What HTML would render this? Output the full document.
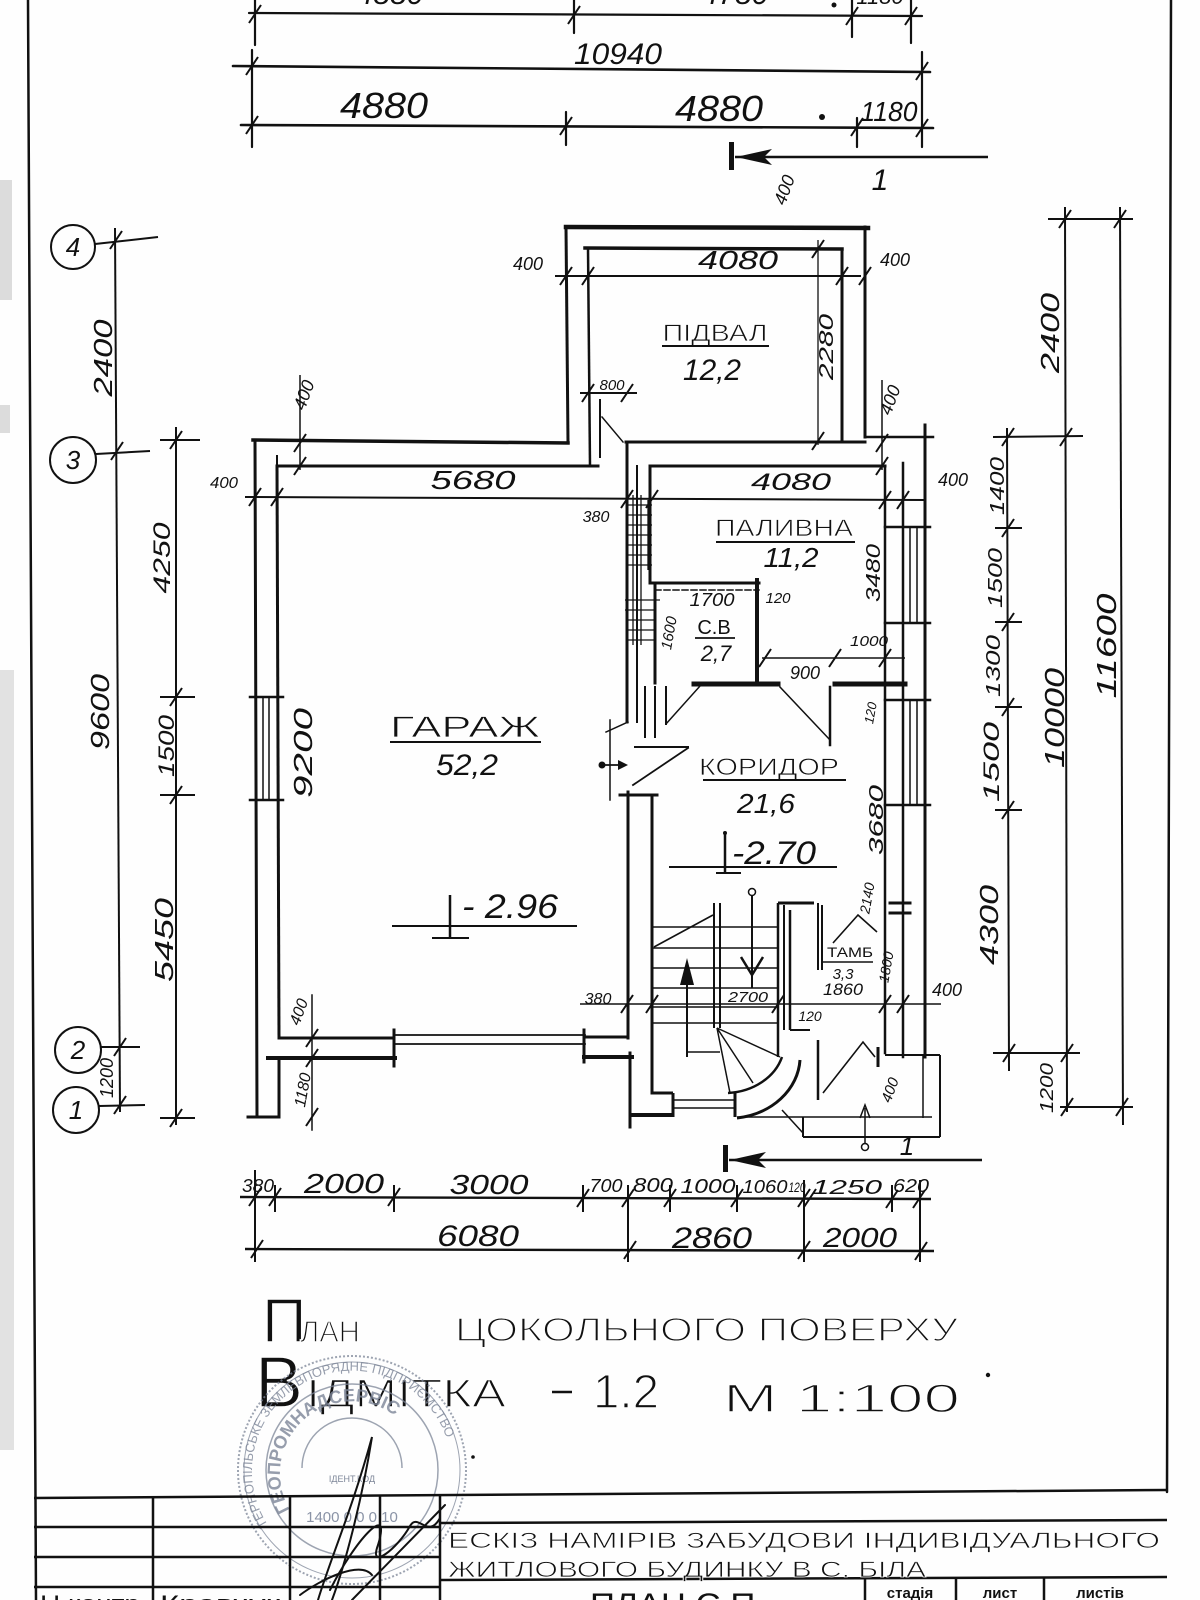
<!DOCTYPE html>
<html><head><meta charset="utf-8">
<style>
html,body{margin:0;padding:0;background:#fff;}
svg{display:block;}
.d{font-family:"Liberation Sans",sans-serif;font-style:italic;fill:#111;}
.r{font-family:"Liberation Sans",sans-serif;fill:#111;}
.th{stroke:#fefefe;stroke-width:1.4;}
.tl{stroke:#fefefe;stroke-width:0.7;}
</style></head><body>
<svg width="1200" height="1600" viewBox="0 0 1200 1600">
<defs>
<line id="t" x1="-6" y1="9" x2="6" y2="-9" stroke="#111" stroke-width="2"/>
</defs>
<rect width="1200" height="1600" fill="#fefefe"/>
<rect x="0" y="180" width="12" height="120" fill="#dcdcdc"/>
<rect x="0" y="405" width="10" height="28" fill="#dcdcdc"/>
<rect x="0" y="670" width="14" height="780" fill="#e2e2e2"/>

<g stroke="#111" fill="none" stroke-linecap="round">
<line x1="28" y1="0" x2="36" y2="1600" stroke-width="2.5"/>
<line x1="1171" y1="0" x2="1167" y2="1492" stroke-width="2.5"/>
<g stroke-width="2.2">
<line x1="249" y1="13" x2="922" y2="16"/>
<line x1="255" y1="0" x2="255" y2="45"/>
<line x1="574" y1="0" x2="574" y2="33"/>
<line x1="852" y1="0" x2="852" y2="37"/>
<line x1="911" y1="0" x2="911" y2="43"/>
<line x1="233" y1="66" x2="930" y2="72" stroke-width="2.6"/>
<line x1="252" y1="50" x2="252" y2="147"/>
<line x1="922" y1="52" x2="922" y2="147"/>
<line x1="241" y1="125" x2="933" y2="128" stroke-width="2.6"/>
<line x1="566" y1="112" x2="566" y2="145"/>
<line x1="857" y1="118" x2="857" y2="147"/>
</g>
</g>
<use href="#t" x="255" y="14"/><use href="#t" x="574" y="15"/><use href="#t" x="852" y="16"/><use href="#t" x="911" y="16"/>
<use href="#t" x="252" y="66"/><use href="#t" x="922" y="71"/>
<use href="#t" x="252" y="125"/><use href="#t" x="566" y="126"/><use href="#t" x="857" y="127"/><use href="#t" x="922" y="128"/>
<text class="d" x="390" y="4" font-size="30" text-anchor="middle">4880</text>
<text class="d" x="735" y="4" font-size="30" text-anchor="middle">4780</text>
<text class="d" x="880" y="4" font-size="22" text-anchor="middle">1180</text>
<circle cx="834" cy="5" r="2.5" fill="#111"/>
<text class="d" x="618" y="64" font-size="30" text-anchor="middle" textLength="88" lengthAdjust="spacingAndGlyphs">10940</text>
<text class="d" x="384" y="118" font-size="36" text-anchor="middle" textLength="88" lengthAdjust="spacingAndGlyphs">4880</text>
<text class="d" x="719" y="121" font-size="36" text-anchor="middle" textLength="88" lengthAdjust="spacingAndGlyphs">4880</text>
<text class="d" x="889" y="121" font-size="28" text-anchor="middle" textLength="57" lengthAdjust="spacingAndGlyphs">1180</text>
<circle cx="822" cy="117" r="3" fill="#111"/>

<rect x="729" y="142" width="5" height="28" fill="#111"/>
<line x1="735" y1="157" x2="988" y2="157" stroke="#111" stroke-width="2.5"/>
<polygon points="736,157 772,149 764,157 772,165" fill="#111"/>
<text class="d" x="880" y="190" font-size="30" text-anchor="middle">1</text>
<text class="d" font-size="18" transform="translate(790,192) rotate(-70)" text-anchor="middle">400</text>

<g stroke="#111" stroke-width="2" fill="none">
<circle cx="73" cy="247" r="22"/>
<circle cx="73" cy="460" r="23"/>
<circle cx="78" cy="1050" r="23"/>
<circle cx="76" cy="1110" r="23"/>
<line x1="95" y1="244" x2="158" y2="237"/>
<line x1="96" y1="454" x2="150" y2="451"/>
<line x1="101" y1="1047" x2="140" y2="1047"/>
<line x1="99" y1="1106" x2="145" y2="1105"/>
<line x1="115" y1="228" x2="120" y2="1112"/>
<line x1="176" y1="427" x2="176" y2="1125"/>
<line x1="160" y1="440" x2="200" y2="440"/>
<line x1="160" y1="697" x2="195" y2="697"/>
<line x1="160" y1="795" x2="195" y2="795"/>
<line x1="160" y1="1118" x2="195" y2="1118"/>
</g>
<text class="d" x="73" y="256" font-size="26" text-anchor="middle">4</text>
<text class="d" x="73" y="469" font-size="26" text-anchor="middle">3</text>
<text class="d" x="78" y="1059" font-size="26" text-anchor="middle">2</text>
<text class="d" x="76" y="1119" font-size="26" text-anchor="middle">1</text>
<use href="#t" x="116" y="240"/><use href="#t" x="117" y="451"/><use href="#t" x="120" y="1047"/><use href="#t" x="120" y="1105"/>
<use href="#t" x="176" y="440"/><use href="#t" x="176" y="697"/><use href="#t" x="176" y="795"/><use href="#t" x="176" y="1118"/>
<text class="d" font-size="26" transform="translate(103,358) rotate(-90)" text-anchor="middle" dy="9" textLength="77" lengthAdjust="spacingAndGlyphs">2400</text>
<text class="d" font-size="26" transform="translate(100,712) rotate(-90)" text-anchor="middle" dy="9" textLength="76" lengthAdjust="spacingAndGlyphs">9600</text>
<text class="d" font-size="18" transform="translate(107,1078) rotate(-90)" text-anchor="middle" dy="6" textLength="40" lengthAdjust="spacingAndGlyphs">1200</text>
<text class="d" font-size="24" transform="translate(162,558) rotate(-90)" text-anchor="middle" dy="8" textLength="71" lengthAdjust="spacingAndGlyphs">4250</text>
<text class="d" font-size="22" transform="translate(166,746) rotate(-90)" text-anchor="middle" dy="8" textLength="62" lengthAdjust="spacingAndGlyphs">1500</text>
<text class="d" font-size="26" transform="translate(164,940) rotate(-90)" text-anchor="middle" dy="9" textLength="84" lengthAdjust="spacingAndGlyphs">5450</text>

<g stroke="#111" fill="none" stroke-linecap="square">
<line x1="253" y1="440" x2="568" y2="443" stroke-width="3.5"/>
<line x1="277" y1="466" x2="598" y2="466" stroke-width="3"/>
<line x1="255" y1="440" x2="257" y2="1117" stroke-width="3"/>
<line x1="277" y1="466" x2="279" y2="1038" stroke-width="3"/>
<line x1="250" y1="697" x2="283" y2="697" stroke-width="2.5"/>
<line x1="250" y1="800" x2="283" y2="800" stroke-width="2.5"/>
<line x1="263" y1="697" x2="263" y2="800" stroke-width="1.5"/>
<line x1="269" y1="697" x2="269" y2="800" stroke-width="1.5"/>
<line x1="279" y1="1038" x2="394" y2="1038" stroke-width="3"/>
<line x1="268" y1="1058" x2="395" y2="1058" stroke-width="4"/>
<line x1="394" y1="1030" x2="394" y2="1066" stroke-width="3"/>
<line x1="394" y1="1035" x2="585" y2="1035" stroke-width="1.8"/>
<line x1="394" y1="1044" x2="585" y2="1044" stroke-width="1.8"/>
<line x1="584" y1="1030" x2="584" y2="1062" stroke-width="3"/>
<line x1="584" y1="1037" x2="628" y2="1037" stroke-width="3"/>
<line x1="584" y1="1057" x2="632" y2="1057" stroke-width="4"/>
<line x1="279" y1="1058" x2="279" y2="1117" stroke-width="3"/>
<line x1="248" y1="1117" x2="279" y2="1117" stroke-width="3"/>
<line x1="312" y1="995" x2="312" y2="1130" stroke-width="1.5"/>
<line x1="627" y1="443" x2="627" y2="722" stroke-width="3"/>
<line x1="628" y1="792" x2="628" y2="1038" stroke-width="3"/>
<line x1="630" y1="1053" x2="630" y2="1127" stroke-width="3"/>
<line x1="637" y1="466" x2="637" y2="722" stroke-width="2"/>
<line x1="650" y1="466" x2="650" y2="583" stroke-width="3"/>
<line x1="652" y1="795" x2="652" y2="1093" stroke-width="3"/>
<line x1="566" y1="227" x2="868" y2="228" stroke-width="4.5"/>
<line x1="585" y1="248" x2="842" y2="249" stroke-width="3.5"/>
<line x1="566" y1="227" x2="568" y2="443" stroke-width="3"/>
<line x1="588" y1="248" x2="590" y2="466" stroke-width="2.5"/>
<line x1="865" y1="227" x2="865" y2="437" stroke-width="3"/>
<line x1="865" y1="437" x2="933" y2="437" stroke-width="2.5"/>
<line x1="842" y1="249" x2="842" y2="441" stroke-width="3"/>
<line x1="626" y1="442" x2="865" y2="442" stroke-width="3"/>
<line x1="600" y1="400" x2="600" y2="457" stroke-width="2"/>
<line x1="602" y1="417" x2="623" y2="442" stroke-width="1.5"/>
<line x1="652" y1="466" x2="885" y2="466" stroke-width="3"/>
<line x1="885" y1="466" x2="885" y2="1053" stroke-width="2.5"/>
<line x1="903" y1="463" x2="903" y2="1057" stroke-width="2.5"/>
<line x1="925" y1="425" x2="925" y2="1057" stroke-width="3"/>
<line x1="885" y1="527" x2="930" y2="527" stroke-width="2.5"/>
<line x1="885" y1="623" x2="930" y2="623" stroke-width="2.5"/>
<line x1="910" y1="527" x2="910" y2="623" stroke-width="1.5"/>
<line x1="917" y1="527" x2="917" y2="623" stroke-width="1.5"/>
<line x1="885" y1="700" x2="930" y2="700" stroke-width="2.5"/>
<line x1="885" y1="805" x2="930" y2="805" stroke-width="2.5"/>
<line x1="910" y1="700" x2="910" y2="805" stroke-width="1.5"/>
<line x1="917" y1="700" x2="917" y2="805" stroke-width="1.5"/>
<line x1="890" y1="903" x2="910" y2="903" stroke-width="3"/>
<line x1="890" y1="913" x2="910" y2="913" stroke-width="3"/>
<line x1="650" y1="583" x2="759" y2="583" stroke-width="3"/>
<line x1="655" y1="590" x2="759" y2="590" stroke-width="1.5" stroke-dasharray="6 3"/>
<line x1="757" y1="580" x2="757" y2="683" stroke-width="4"/>
<line x1="655" y1="583" x2="655" y2="683" stroke-width="3"/>
<line x1="694" y1="684" x2="778" y2="684" stroke-width="5"/>
<line x1="835" y1="684" x2="905" y2="684" stroke-width="5"/>
<line x1="700" y1="686" x2="666" y2="724" stroke-width="1.5"/>
<line x1="666" y1="687" x2="666" y2="724" stroke-width="2"/>
<line x1="780" y1="687" x2="830" y2="740" stroke-width="1.5"/>
<line x1="830" y1="687" x2="830" y2="745" stroke-width="2.5"/>
<line x1="645" y1="687" x2="645" y2="737" stroke-width="2"/>
<line x1="655" y1="687" x2="655" y2="737" stroke-width="2"/>
<line x1="606" y1="732" x2="628" y2="722" stroke-width="1.5"/>
<line x1="602" y1="765" x2="624" y2="765" stroke-width="1.8"/>
<line x1="633" y1="785" x2="688" y2="748" stroke-width="1.8"/>
<line x1="635" y1="747" x2="688" y2="747" stroke-width="2"/>
<line x1="620" y1="795" x2="657" y2="795" stroke-width="3"/>
<line x1="610" y1="720" x2="610" y2="800" stroke-width="1.5"/>
</g>
<circle cx="602" cy="765" r="3.5" fill="#111"/>
<polygon points="628,765 618,760 618,770" fill="#111"/>
<g stroke="#111" stroke-width="1.3">
<line x1="633" y1="495" x2="633" y2="645"/><line x1="641" y1="495" x2="641" y2="645"/><line x1="648" y1="500" x2="648" y2="570"/>
<line x1="628" y1="505" x2="652" y2="505"/><line x1="628" y1="515" x2="652" y2="515"/><line x1="628" y1="525" x2="652" y2="525"/>
<line x1="628" y1="535" x2="652" y2="535"/><line x1="628" y1="545" x2="652" y2="545"/><line x1="628" y1="555" x2="652" y2="555"/>
<line x1="628" y1="565" x2="652" y2="565"/><line x1="625" y1="600" x2="660" y2="600"/><line x1="625" y1="610" x2="655" y2="610"/>
<line x1="628" y1="620" x2="655" y2="620"/><line x1="628" y1="630" x2="655" y2="630"/><line x1="628" y1="640" x2="655" y2="640"/>
</g>

<g stroke="#111" stroke-width="2" fill="none">
<line x1="245" y1="497" x2="926" y2="500"/>
<line x1="277" y1="455" x2="277" y2="505"/>
<line x1="555" y1="276" x2="861" y2="276"/>
<line x1="818" y1="240" x2="818" y2="445" stroke-width="1.3"/>
<line x1="580" y1="393" x2="637" y2="393"/>
<line x1="300" y1="375" x2="300" y2="470" stroke-width="1.5"/>
<line x1="882" y1="380" x2="882" y2="470" stroke-width="1.5"/>
<line x1="762" y1="658" x2="905" y2="658" stroke-width="1.5"/>
<line x1="580" y1="1004" x2="941" y2="1004" stroke-width="1.6"/>
</g>
<use href="#t" x="255" y="497"/><use href="#t" x="277" y="497"/><use href="#t" x="627" y="499"/><use href="#t" x="652" y="499"/><use href="#t" x="885" y="500"/><use href="#t" x="903" y="500"/>
<use href="#t" x="566" y="276"/><use href="#t" x="588" y="276"/><use href="#t" x="842" y="276"/><use href="#t" x="865" y="276"/>
<use href="#t" x="818" y="249"/><use href="#t" x="818" y="441"/>
<use href="#t" x="588" y="393"/><use href="#t" x="627" y="393"/>
<use href="#t" x="300" y="443"/><use href="#t" x="300" y="466"/><use href="#t" x="882" y="443"/><use href="#t" x="882" y="466"/>
<use href="#t" x="765" y="658"/><use href="#t" x="835" y="658"/><use href="#t" x="885" y="658"/>
<use href="#t" x="312" y="1038"/><use href="#t" x="312" y="1058"/><use href="#t" x="312" y="1117"/>
<use href="#t" x="627" y="1004"/><use href="#t" x="652" y="1004"/><use href="#t" x="778" y="1004"/><use href="#t" x="885" y="1004"/><use href="#t" x="903" y="1004"/>

<text class="d" x="224" y="488" font-size="16" text-anchor="middle" textLength="28" lengthAdjust="spacingAndGlyphs">400</text>
<text class="d" x="473" y="489" font-size="26" text-anchor="middle" textLength="85" lengthAdjust="spacingAndGlyphs">5680</text>
<text class="d" x="596" y="522" font-size="16" text-anchor="middle">380</text>
<text class="d" x="791" y="490" font-size="24" text-anchor="middle" textLength="80" lengthAdjust="spacingAndGlyphs">4080</text>
<text class="d" x="953" y="486" font-size="18" text-anchor="middle">400</text>
<text class="r tl" x="465" y="737" font-size="30" text-anchor="middle" textLength="150" lengthAdjust="spacingAndGlyphs">ГАРАЖ</text>
<line x1="390" y1="742" x2="541" y2="742" stroke="#111" stroke-width="2"/>
<text class="d" x="467" y="775" font-size="30" text-anchor="middle" textLength="62" lengthAdjust="spacingAndGlyphs">52,2</text>
<text class="d" font-size="26" transform="translate(303,753) rotate(-90)" text-anchor="middle" dy="9" textLength="90" lengthAdjust="spacingAndGlyphs">9200</text>
<g stroke="#111" fill="none">
<line x1="392" y1="926" x2="577" y2="926" stroke-width="2"/>
<line x1="450" y1="895" x2="450" y2="938" stroke-width="2.5"/>
<line x1="432" y1="938" x2="469" y2="938" stroke-width="2"/>
</g>
<text class="d" x="462" y="918" font-size="34" textLength="96" lengthAdjust="spacingAndGlyphs">- 2.96</text>
<text class="d" font-size="16" transform="translate(299,1012) rotate(-70)" text-anchor="middle" dy="5">400</text>
<text class="d" font-size="16" transform="translate(303,1090) rotate(-80)" text-anchor="middle" dy="5">1180</text>
<text class="d" x="598" y="1004" font-size="16" text-anchor="middle">380</text>

<text class="d" x="738" y="269" font-size="26" text-anchor="middle" textLength="80" lengthAdjust="spacingAndGlyphs">4080</text>
<text class="d" x="528" y="270" font-size="18" text-anchor="middle">400</text>
<text class="d" x="895" y="266" font-size="18" text-anchor="middle">400</text>
<text class="r tl" x="715" y="341" font-size="24" text-anchor="middle" textLength="105" lengthAdjust="spacingAndGlyphs">ПІДВАЛ</text>
<line x1="662" y1="346" x2="769" y2="346" stroke="#111" stroke-width="2"/>
<text class="d" x="712" y="380" font-size="30" text-anchor="middle" textLength="58" lengthAdjust="spacingAndGlyphs">12,2</text>
<text class="d" font-size="20" transform="translate(826,347) rotate(-90)" text-anchor="middle" dy="7" textLength="66" lengthAdjust="spacingAndGlyphs">2280</text>
<text class="d" x="612" y="390" font-size="15" text-anchor="middle">800</text>
<text class="d" font-size="18" transform="translate(304,395) rotate(-70)" text-anchor="middle" dy="6">400</text>
<text class="d" font-size="18" transform="translate(890,400) rotate(-70)" text-anchor="middle" dy="6">400</text>

<text class="r tl" x="784" y="536" font-size="24" text-anchor="middle" textLength="138" lengthAdjust="spacingAndGlyphs">ПАЛИВНА</text>
<line x1="716" y1="542" x2="855" y2="542" stroke="#111" stroke-width="2"/>
<text class="d" x="791" y="567" font-size="28" text-anchor="middle" textLength="55" lengthAdjust="spacingAndGlyphs">11,2</text>
<text class="d" font-size="20" transform="translate(873,573) rotate(-90)" text-anchor="middle" dy="7" textLength="58" lengthAdjust="spacingAndGlyphs">3480</text>
<text class="d" x="712" y="606" font-size="18" text-anchor="middle" textLength="45" lengthAdjust="spacingAndGlyphs">1700</text>
<text class="d" x="778" y="603" font-size="15" text-anchor="middle">120</text>
<text class="r" x="714" y="634" font-size="20" text-anchor="middle">С.В</text>
<line x1="695" y1="638" x2="735" y2="638" stroke="#111" stroke-width="1.8"/>
<text class="d" x="716" y="661" font-size="22" text-anchor="middle">2,7</text>
<text class="d" font-size="15" transform="translate(669,633) rotate(-80)" text-anchor="middle" dy="5">1600</text>
<text class="d" x="869" y="646" font-size="15" text-anchor="middle" textLength="38" lengthAdjust="spacingAndGlyphs">1000</text>
<text class="d" x="805" y="679" font-size="18" text-anchor="middle">900</text>
<text class="d" font-size="13" transform="translate(871,713) rotate(-80)" text-anchor="middle" dy="4">120</text>

<text class="r tl" x="769" y="775" font-size="24" text-anchor="middle" textLength="140" lengthAdjust="spacingAndGlyphs">КОРИДОР</text>
<line x1="703" y1="780" x2="846" y2="780" stroke="#111" stroke-width="2"/>
<text class="d" x="766" y="813" font-size="28" text-anchor="middle" textLength="58" lengthAdjust="spacingAndGlyphs">21,6</text>
<text class="d" font-size="20" transform="translate(876,820) rotate(-90)" text-anchor="middle" dy="7" textLength="70" lengthAdjust="spacingAndGlyphs">3680</text>
<g stroke="#111" fill="none">
<line x1="669" y1="867" x2="837" y2="867" stroke-width="2"/>
<line x1="725" y1="833" x2="725" y2="873" stroke-width="2.5"/>
<line x1="716" y1="873" x2="741" y2="873" stroke-width="2"/>
</g>
<circle cx="725" cy="833" r="2" fill="#111"/>
<text class="d" x="732" y="864" font-size="32" textLength="84" lengthAdjust="spacingAndGlyphs">-2.70</text>

<g stroke="#111" fill="none">
<line x1="714" y1="903" x2="714" y2="1028" stroke-width="2"/>
<line x1="720" y1="903" x2="720" y2="1028" stroke-width="2"/>
<line x1="778" y1="903" x2="778" y2="1057" stroke-width="2.5"/>
<line x1="784" y1="905" x2="784" y2="1030" stroke-width="2"/>
<line x1="778" y1="903" x2="814" y2="903" stroke-width="3"/>
<line x1="790" y1="910" x2="790" y2="1030" stroke-width="2.5"/>
<line x1="790" y1="1030" x2="810" y2="1030" stroke-width="2"/>
<line x1="652" y1="927" x2="778" y2="927" stroke-width="1.6"/>
<line x1="652" y1="948" x2="778" y2="948" stroke-width="1.6"/>
<line x1="652" y1="968" x2="778" y2="968" stroke-width="1.6"/>
<line x1="652" y1="988" x2="778" y2="988" stroke-width="1.6"/>
<line x1="652" y1="1007" x2="778" y2="1007" stroke-width="1.6"/>
<line x1="652" y1="1023" x2="778" y2="1023" stroke-width="1.6"/>
<line x1="654" y1="947" x2="713" y2="915" stroke-width="1.6"/>
<line x1="687" y1="1057" x2="687" y2="975" stroke-width="2"/>
<line x1="687" y1="1052" x2="720" y2="1052" stroke-width="1.6"/>
<line x1="752" y1="896" x2="752" y2="988" stroke-width="2"/>
<polyline points="741,957 752,975 763,957" stroke-width="2.5"/>
<circle cx="752" cy="892" r="3.5" stroke-width="1.5"/>
<path d="M 800 1060 A 72 62 0 0 1 737 1118" stroke-width="3"/>
<path d="M 782 1057 A 60 50 0 0 1 728 1093" stroke-width="2.5"/>
<line x1="717" y1="1028" x2="780" y2="1057" stroke-width="1.5"/>
<line x1="717" y1="1028" x2="753" y2="1083" stroke-width="1.5"/>
<line x1="717" y1="1028" x2="730" y2="1093" stroke-width="1.5"/>
<line x1="652" y1="1093" x2="673" y2="1093" stroke-width="3"/>
<line x1="630" y1="1115" x2="673" y2="1115" stroke-width="4"/>
<line x1="673" y1="1093" x2="673" y2="1117" stroke-width="3"/>
<line x1="735" y1="1093" x2="735" y2="1117" stroke-width="3"/>
<line x1="673" y1="1100" x2="735" y2="1100" stroke-width="1.5"/>
<line x1="673" y1="1108" x2="735" y2="1108" stroke-width="1.5"/>
<line x1="818" y1="903" x2="818" y2="970" stroke-width="2"/>
<line x1="822" y1="905" x2="822" y2="970" stroke-width="2"/>
<polyline points="833,943 858,915 877,932" stroke-width="1.6"/>
<line x1="818" y1="1040" x2="818" y2="1100" stroke-width="2.5"/>
<polyline points="823,1093 863,1042 875,1057" stroke-width="1.6"/>
<line x1="878" y1="1047" x2="878" y2="1067" stroke-width="3"/>
<line x1="885" y1="1055" x2="940" y2="1055" stroke-width="2"/>
<line x1="940" y1="1055" x2="940" y2="1137" stroke-width="2"/>
<line x1="803" y1="1137" x2="940" y2="1137" stroke-width="2"/>
<line x1="803" y1="1117" x2="803" y2="1137" stroke-width="2"/>
<line x1="737" y1="1117" x2="932" y2="1117" stroke-width="1.5"/>
<line x1="923" y1="1055" x2="923" y2="1118" stroke-width="1.5"/>
<line x1="782" y1="1110" x2="803" y2="1133" stroke-width="1.5"/>
<line x1="865" y1="1143" x2="865" y2="1108" stroke-width="1.5"/>
<polyline points="860,1118 865,1105 870,1118" stroke-width="1.5"/>
<circle cx="865" cy="1147" r="3.5" stroke-width="1.5"/>
</g>
<polygon points="687,958 680,985 694,985" fill="#111"/>
<text class="r" x="850" y="957" font-size="14" text-anchor="middle" textLength="46" lengthAdjust="spacingAndGlyphs">ТАМБ</text>
<line x1="823" y1="962" x2="873" y2="962" stroke="#111" stroke-width="1.6"/>
<text class="d" x="843" y="979" font-size="15" text-anchor="middle">3,3</text>
<text class="d" x="843" y="995" font-size="17" text-anchor="middle" textLength="40" lengthAdjust="spacingAndGlyphs">1860</text>
<text class="d" font-size="14" transform="translate(867,898) rotate(-80)" text-anchor="middle" dy="5">2140</text>
<text class="d" font-size="14" transform="translate(886,967) rotate(-80)" text-anchor="middle" dy="5">1800</text>
<text class="d" x="748" y="1002" font-size="15" text-anchor="middle" textLength="40" lengthAdjust="spacingAndGlyphs">2700</text>
<text class="d" x="810" y="1021" font-size="14" text-anchor="middle">120</text>
<text class="d" x="947" y="996" font-size="18" text-anchor="middle">400</text>
<text class="d" font-size="15" transform="translate(890,1090) rotate(-70)" text-anchor="middle" dy="5">400</text>

<rect x="723" y="1145" width="5" height="27" fill="#111"/>
<line x1="729" y1="1160" x2="982" y2="1160" stroke="#111" stroke-width="2.5"/>
<polygon points="730,1160 766,1152 758,1160 766,1168" fill="#111"/>
<text class="d" x="907" y="1155" font-size="26" text-anchor="middle">1</text>

<g stroke="#111" stroke-width="2" fill="none">
<line x1="1007" y1="428" x2="1009" y2="1071"/>
<line x1="993" y1="437" x2="1083" y2="436"/>
<line x1="995" y1="528" x2="1022" y2="528"/>
<line x1="995" y1="622" x2="1022" y2="622"/>
<line x1="995" y1="707" x2="1022" y2="707"/>
<line x1="995" y1="810" x2="1022" y2="810"/>
<line x1="993" y1="1053" x2="1080" y2="1053"/>
<line x1="1065" y1="207" x2="1067" y2="1112"/>
<line x1="1048" y1="219" x2="1133" y2="219"/>
<line x1="1060" y1="1107" x2="1133" y2="1107"/>
<line x1="1120" y1="207" x2="1123" y2="1125"/>
</g>
<use href="#t" x="1008" y="437"/><use href="#t" x="1008" y="528"/><use href="#t" x="1008" y="622"/><use href="#t" x="1008" y="707"/><use href="#t" x="1008" y="810"/><use href="#t" x="1009" y="1053"/>
<use href="#t" x="1065" y="219"/><use href="#t" x="1066" y="437"/><use href="#t" x="1067" y="1053"/><use href="#t" x="1067" y="1107"/>
<use href="#t" x="1120" y="219"/><use href="#t" x="1122" y="1107"/>
<text class="d" font-size="26" transform="translate(1050,333) rotate(-90)" text-anchor="middle" dy="9" textLength="80" lengthAdjust="spacingAndGlyphs">2400</text>
<text class="d" font-size="20" transform="translate(997,486) rotate(-90)" text-anchor="middle" dy="7" textLength="58" lengthAdjust="spacingAndGlyphs">1400</text>
<text class="d" font-size="20" transform="translate(995,578) rotate(-90)" text-anchor="middle" dy="7" textLength="60" lengthAdjust="spacingAndGlyphs">1500</text>
<text class="d" font-size="20" transform="translate(993,666) rotate(-90)" text-anchor="middle" dy="7" textLength="62" lengthAdjust="spacingAndGlyphs">1300</text>
<text class="d" font-size="22" transform="translate(992,762) rotate(-90)" text-anchor="middle" dy="7" textLength="80" lengthAdjust="spacingAndGlyphs">1500</text>
<text class="d" font-size="26" transform="translate(989,925) rotate(-90)" text-anchor="middle" dy="9" textLength="80" lengthAdjust="spacingAndGlyphs">4300</text>
<text class="d" font-size="18" transform="translate(1047,1088) rotate(-90)" text-anchor="middle" dy="6" textLength="50" lengthAdjust="spacingAndGlyphs">1200</text>
<text class="d" font-size="28" transform="translate(1055,718) rotate(-90)" text-anchor="middle" dy="9" textLength="100" lengthAdjust="spacingAndGlyphs">10000</text>
<text class="d" font-size="28" transform="translate(1107,646) rotate(-90)" text-anchor="middle" dy="9" textLength="105" lengthAdjust="spacingAndGlyphs">11600</text>

<g stroke="#111" stroke-width="2" fill="none">
<line x1="240" y1="1197" x2="931" y2="1199" stroke-width="2.4"/>
<line x1="245" y1="1249" x2="934" y2="1251" stroke-width="2.4"/>
<line x1="255" y1="1170" x2="255" y2="1262"/>
<line x1="275" y1="1185" x2="275" y2="1212"/>
<line x1="394" y1="1185" x2="394" y2="1212"/>
<line x1="583" y1="1185" x2="583" y2="1212"/>
<line x1="628" y1="1185" x2="628" y2="1262"/>
<line x1="670" y1="1185" x2="670" y2="1212"/>
<line x1="737" y1="1185" x2="737" y2="1212"/>
<line x1="804" y1="1180" x2="804" y2="1262"/>
<line x1="892" y1="1185" x2="892" y2="1212"/>
<line x1="920" y1="1180" x2="920" y2="1262"/>
</g>
<use href="#t" x="255" y="1197"/><use href="#t" x="275" y="1197"/><use href="#t" x="394" y="1197"/><use href="#t" x="583" y="1198"/><use href="#t" x="628" y="1198"/><use href="#t" x="670" y="1198"/><use href="#t" x="737" y="1198"/><use href="#t" x="804" y="1198"/><use href="#t" x="810" y="1198"/><use href="#t" x="892" y="1199"/><use href="#t" x="919" y="1199"/>
<use href="#t" x="257" y="1249"/><use href="#t" x="630" y="1250"/><use href="#t" x="804" y="1250"/><use href="#t" x="921" y="1251"/>
<text class="d" x="258" y="1192" font-size="18" text-anchor="middle" textLength="32" lengthAdjust="spacingAndGlyphs">380</text>
<text class="d" x="344" y="1193" font-size="28" text-anchor="middle" textLength="80" lengthAdjust="spacingAndGlyphs">2000</text>
<text class="d" x="489" y="1194" font-size="28" text-anchor="middle" textLength="79" lengthAdjust="spacingAndGlyphs">3000</text>
<text class="d" x="606" y="1192" font-size="18" text-anchor="middle" textLength="33" lengthAdjust="spacingAndGlyphs">700</text>
<text class="d" x="653" y="1192" font-size="20" text-anchor="middle" textLength="40" lengthAdjust="spacingAndGlyphs">800</text>
<text class="d" x="708" y="1193" font-size="20" text-anchor="middle" textLength="55" lengthAdjust="spacingAndGlyphs">1000</text>
<text class="d" x="765" y="1193" font-size="18" text-anchor="middle" textLength="45" lengthAdjust="spacingAndGlyphs">1060</text>
<text class="d" x="797" y="1192" font-size="14" text-anchor="middle" textLength="17" lengthAdjust="spacingAndGlyphs">120</text>
<text class="d" x="847" y="1194" font-size="20" text-anchor="middle" textLength="70" lengthAdjust="spacingAndGlyphs">1250</text>
<text class="d" x="911" y="1192" font-size="18" text-anchor="middle" textLength="36" lengthAdjust="spacingAndGlyphs">620</text>
<text class="d" x="478" y="1246" font-size="30" text-anchor="middle" textLength="82" lengthAdjust="spacingAndGlyphs">6080</text>
<text class="d" x="712" y="1248" font-size="30" text-anchor="middle" textLength="80" lengthAdjust="spacingAndGlyphs">2860</text>
<text class="d" x="860" y="1247" font-size="28" text-anchor="middle" textLength="74" lengthAdjust="spacingAndGlyphs">2000</text>

<text class="r th" x="262" y="1342" font-size="62">П</text>
<text class="r th" x="300" y="1342" font-size="31" textLength="60" lengthAdjust="spacingAndGlyphs">ЛАН</text>
<text class="r th" x="455" y="1341" font-size="33" textLength="503" lengthAdjust="spacingAndGlyphs">ЦОКОЛЬНОГО ПОВЕРХУ</text>
<text class="r th" x="255" y="1407" font-size="72" textLength="48" lengthAdjust="spacingAndGlyphs">В</text>
<text class="r th" x="306" y="1407" font-size="40" textLength="200" lengthAdjust="spacingAndGlyphs">ІДМІТКА</text>
<line x1="552" y1="1392" x2="572" y2="1392" stroke="#111" stroke-width="2.5"/>
<text class="r th" x="593" y="1408" font-size="48" textLength="66" lengthAdjust="spacingAndGlyphs">1.2</text>
<text class="r th" x="723" y="1412" font-size="40" textLength="237" lengthAdjust="spacingAndGlyphs">М 1:100</text>
<circle cx="988" cy="1375" r="2.2" fill="#111"/>
<circle cx="473" cy="1457" r="1.8" fill="#111"/>

<defs>
<path id="sp" d="M 268 1525 A 100 100 0 1 1 436 1525"/>
<path id="sp2" d="M 290 1510 A 72 72 0 1 1 414 1510"/>
</defs>
<g stroke="#7d8698" fill="none" opacity="0.75">
<circle cx="352" cy="1470" r="114" stroke-width="2" stroke-dasharray="2 2"/>
<circle cx="352" cy="1470" r="108" stroke-width="1"/>
<circle cx="352" cy="1470" r="86" stroke-width="1.5"/>
<path d="M 302 1468 A 50 50 0 0 1 402 1468" stroke-width="1.5"/>
</g>
<text font-family="Liberation Sans, sans-serif" font-size="13" fill="#7d8698" opacity="0.8"><textPath href="#sp">ТЕРНОПІЛЬСЬКЕ ЗЕМЛЕВПОРЯДНЕ ПІДПРИЄМСТВО</textPath></text>
<text font-family="Liberation Sans, sans-serif" font-size="18" font-weight="bold" fill="#7d8698" opacity="0.8"><textPath href="#sp2">ГЕОПРОМНАДСЕРВІС</textPath></text>
<text font-family="Liberation Sans, sans-serif" x="352" y="1482" font-size="9" fill="#7d8698" text-anchor="middle">ІДЕНТ.КОД</text>
<text font-family="Liberation Sans, sans-serif" x="352" y="1522" font-size="15" fill="#8a93a6" text-anchor="middle">1400 0 0 0 10</text>

<g stroke="#111" fill="none" stroke-width="2.5">
<line x1="34" y1="1498" x2="1167" y2="1490"/>
<line x1="34" y1="1527" x2="440" y2="1527"/>
<line x1="440" y1="1523" x2="1167" y2="1520"/>
<line x1="34" y1="1557" x2="440" y2="1557"/>
<line x1="440" y1="1580" x2="1167" y2="1577"/>
<line x1="34" y1="1587" x2="440" y2="1587"/>
<line x1="153" y1="1497" x2="153" y2="1600"/>
<line x1="290" y1="1496" x2="290" y2="1600"/>
<line x1="380" y1="1496" x2="380" y2="1600"/>
<line x1="440" y1="1495" x2="440" y2="1600"/>
<line x1="865" y1="1579" x2="865" y2="1600"/>
<line x1="956" y1="1578" x2="956" y2="1600"/>
<line x1="1044" y1="1578" x2="1044" y2="1600"/>
</g>
<text class="r tl" x="448" y="1548" font-size="22" textLength="712" lengthAdjust="spacingAndGlyphs">ЕСКІЗ НАМІРІВ ЗАБУДОВИ ІНДИВІДУАЛЬНОГО</text>
<text class="r tl" x="448" y="1577" font-size="22" textLength="478" lengthAdjust="spacingAndGlyphs">ЖИТЛОВОГО БУДИНКУ В С. БІЛА</text>
<text class="r" x="40" y="1612" font-size="24" textLength="100" lengthAdjust="spacingAndGlyphs">Н.контр</text>
<text class="r" x="160" y="1612" font-size="24" textLength="120" lengthAdjust="spacingAndGlyphs">Кравчук</text>
<text class="r" x="590" y="1614" font-size="30" textLength="175" lengthAdjust="spacingAndGlyphs">ПЛАН С.П.</text>
<text font-family="Liberation Sans, sans-serif" font-weight="bold" x="910" y="1598" font-size="15" fill="#111" text-anchor="middle">стадія</text>
<text font-family="Liberation Sans, sans-serif" font-weight="bold" x="1000" y="1598" font-size="15" fill="#111" text-anchor="middle">лист</text>
<text font-family="Liberation Sans, sans-serif" font-weight="bold" x="1100" y="1598" font-size="15" fill="#111" text-anchor="middle">листів</text>

<g stroke="#111" fill="none" stroke-width="2" stroke-linecap="round">
<path d="M 318 1600 C 330 1560, 352 1510, 372 1437 C 362 1500, 345 1565, 332 1600"/>
<path d="M 330 1590 C 355 1540, 392 1500, 378 1545 C 368 1572, 398 1548, 410 1526 C 418 1512, 428 1540, 440 1518"/>
<path d="M 352 1600 L 445 1505"/>
<path d="M 300 1595 C 320 1580, 360 1560, 372 1575"/>
</g>
</svg>
</body></html>
